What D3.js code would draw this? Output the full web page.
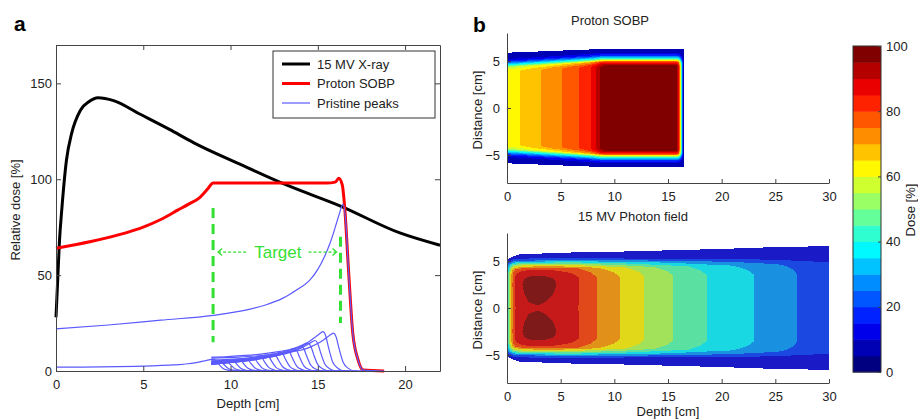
<!DOCTYPE html>
<html>
<head>
<meta charset="utf-8">
<script src="https://cdn.jsdelivr.net/npm/d3@7"></script>
<style>
body { margin: 0; background: #fff; }
svg { font-family: "Liberation Sans", Arial, Helvetica, sans-serif; }
.axis text { font-size: 13px; fill: #222; }
.axis path, .axis line { stroke: #444; }
</style>
</head>
<body>
<svg id="fig" width="918" height="420"></svg>
<script>
// ---- panel a: depth-dose curves (depth in cm, dose in %) ----
var xrayDepth = [0, 0.1, 0.2, 0.33, 0.6, 0.9, 1.4, 1.9, 2.4, 3.3, 4.8, 6.5, 7.9, 10.5, 13.2, 16.3, 19.7, 22];
var xrayDose  = [28, 48, 68, 84, 110, 124, 136, 140.5, 142.5, 141, 134, 126, 119, 108, 97, 86, 72, 65.6];

var sobpDepth = [0, 2, 4, 5, 6, 7, 7.6, 8.25, 8.7, 9.0, 12, 15.5, 16.0, 16.2, 16.4, 16.55, 16.75, 17.0, 17.3, 17.6, 18.8];
var sobpDose  = [64, 67.5, 72, 75, 79, 84, 87, 90.6, 95, 98, 98, 98, 98.5, 100.5, 97, 84, 54, 20, 6, 0.5, 0];

// deepest pristine peak (full curve)
var peakDepth = [0, 3, 6, 9, 11, 12, 13, 13.5, 14, 14.5, 15, 15.4, 15.7, 16.0, 16.2, 16.45, 16.6, 16.75, 17.0, 17.3, 17.6, 18.8];
var peakDose  = [22, 24, 26.5, 29, 32, 34.4, 38, 40.6, 43.5, 47, 53, 60, 66.6, 75, 81, 87, 78, 54, 20, 6, 0.5, 0];

// weighted shallower pristine peaks: peak depth and peak height
var pristineRange  = [9.0, 9.35, 9.7, 10.05, 10.45, 10.85, 11.25, 11.65, 12.05, 12.45, 12.85, 13.25, 13.65, 14.05, 14.45, 14.85, 15.3, 15.9];
var pristineHeight = [6.2, 5.0, 5.3, 5.7, 6.1, 6.6, 7.1, 7.7, 8.3, 9.0, 9.8, 10.7, 11.8, 13.0, 14.4, 15.9, 20.5, 19.8];
var pristineStart = 8.9;

var targetFrom = 9.0, targetTo = 16.3;

var xTicksA = [0, 5, 10, 15, 20];
var yTicksA = [0, 50, 100, 150];

// ---- panel b: dose maps ----
// proton SOBP map: central-axis dose, 50% half width and outer edge by depth
var protonDepth = [0, 1.2, 3.2, 5.1, 6.7, 7.8, 8.3, 8.7, 9.2, 15.8, 16.0, 16.2, 16.4, 16.45];
var protonDose  = [62.5, 65, 70, 75, 80, 85, 90, 95, 98, 98, 88, 55, 15, 0];
var protonWDepth = [0, 9, 16.45];
var protonWidth  = [4.5, 5.0, 5.0];
var protonOuter  = [5.9, 6.3, 6.3];
var protonLatU = [-10, -0.6, -0.4, -0.1, 0.1, 0.35, 0.6, 0.9, 1.3];
var protonLatF = [1, 1, 0.96, 0.85, 0.62, 0.38, 0.2, 0.1, 0.05];
var protonLevels = 20;

// 15 MV photon map
var photonDepth = [0, 0.3, 0.6, 0.8, 1.2, 2.0, 2.8, 3.6, 4.5, 6.65, 8.35, 10.5, 12.8, 15.5, 18.6, 23, 27, 30];
var photonDose  = [30, 60, 78, 83.3, 88, 90.5, 91.2, 90.5, 89, 83.3, 75, 66.7, 58.3, 50, 41.7, 33.3, 25, 21];
var photonWDepth = [0, 10, 20, 30];
var photonWidth  = [4.6, 4.8, 5.0, 5.2];
var photonODepth = [0, 1, 5, 10, 20, 25, 30];
var photonOuter  = [5.2, 5.7, 5.9, 6.0, 6.3, 6.5, 6.6];
var photonLatU = [-10, -1.5, -1.0, -0.5, 0, 0.4, 0.8, 1.5];
var photonLatF = [1, 1, 0.97, 0.9, 0.6, 0.28, 0.12, 0.05];
// off-axis horns near dose maximum
var hornY = [0, 0.5, 1.5, 2.5, 3.5, 4.3];
var hornF = [0, 0.3, 0.8, 1, 0.7, 0];
var hornDepth = [0, 5, 7, 30];
var hornAmp   = [0.033, 0.033, 0, 0];
var photonLevels = 12;

var mapTicksX = [0, 5, 10, 15, 20, 25, 30];
var mapTicksY = [-5, 0, 5];
var doseTicks = [0, 20, 40, 60, 80, 100];
var barLevels = 20;

var svg = d3.select("#fig");
var green = "#33e033";

// ================= panel a =================
var xA = d3.scaleLinear().domain([0, 22]).range([56, 440]);
var yA = d3.scaleLinear().domain([0, 170]).range([371, 45]);

var gA = svg.append("g");

function pairs(xs, ys) {
  return xs.map(function (v, i) { return [v, ys[i]]; });
}

var lineA = d3.line()
  .x(function (d) { return xA(d[0]); })
  .y(function (d) { return yA(d[1]); })
  .curve(d3.curveMonotoneX);

// curves
gA.append("path")
  .attr("d", lineA(pairs(xrayDepth, xrayDose)))
  .attr("fill", "none").attr("stroke", "#000").attr("stroke-width", 3);

gA.append("path")
  .attr("d", lineA(pairs(sobpDepth, sobpDose)))
  .attr("fill", "none").attr("stroke", "#ff0000").attr("stroke-width", 3);

var peakTop = d3.max(peakDose);
var peakAt = peakDepth[peakDose.indexOf(peakTop)];
var bigScale = d3.scaleLinear().domain(peakDepth).range(peakDose).clamp(true);

var pristine = pristineRange.map(function (R, i) {
  var shift = peakAt - R;
  var k = pristineHeight[i] / peakTop;
  var start = i === 0 ? 0 : pristineStart;
  var pts = [[start, k * bigScale(start + shift)]];
  peakDepth.forEach(function (dd, j) {
    if (dd - shift > start) pts.push([dd - shift, k * peakDose[j]]);
  });
  return pts;
});
pristine.push(pairs(peakDepth, peakDose));

gA.append("g").selectAll("path")
  .data(pristine)
  .enter()
  .append("path")
  .attr("d", lineA)
  .attr("fill", "none")
  .attr("stroke", "#5a5aff")
  .attr("stroke-width", 1.2);

// target markers
gA.append("line")
  .attr("x1", xA(targetFrom)).attr("x2", xA(targetFrom))
  .attr("y1", yA(85)).attr("y2", yA(15))
  .attr("stroke", green).attr("stroke-width", 3).attr("stroke-dasharray", "10,6");
gA.append("line")
  .attr("x1", xA(targetTo)).attr("x2", xA(targetTo))
  .attr("y1", yA(70)).attr("y2", yA(25))
  .attr("stroke", green).attr("stroke-width", 3).attr("stroke-dasharray", "10,6");

var yT = yA(62);
gA.append("line")
  .attr("x1", xA(targetFrom) + 5).attr("x2", xA(targetFrom) + 33)
  .attr("y1", yT).attr("y2", yT)
  .attr("stroke", green).attr("stroke-width", 1.3).attr("stroke-dasharray", "3,2");
gA.append("path")
  .attr("d", "M" + (xA(targetFrom) + 9) + "," + (yT - 3.5) + "L" + (xA(targetFrom) + 5) + "," + yT + "L" + (xA(targetFrom) + 9) + "," + (yT + 3.5))
  .attr("fill", "none").attr("stroke", green).attr("stroke-width", 1.3);
gA.append("line")
  .attr("x1", xA(targetTo) - 32).attr("x2", xA(targetTo) - 4)
  .attr("y1", yT).attr("y2", yT)
  .attr("stroke", green).attr("stroke-width", 1.3).attr("stroke-dasharray", "3,2");
gA.append("path")
  .attr("d", "M" + (xA(targetTo) - 8) + "," + (yT - 3.5) + "L" + (xA(targetTo) - 4) + "," + yT + "L" + (xA(targetTo) - 8) + "," + (yT + 3.5))
  .attr("fill", "none").attr("stroke", green).attr("stroke-width", 1.3);
gA.append("text")
  .attr("x", (xA(targetFrom) + xA(targetTo)) / 2 + 1)
  .attr("y", yT)
  .attr("dy", "0.35em")
  .attr("text-anchor", "middle")
  .style("font-size", "17px")
  .attr("fill", green)
  .text("Target");

// axes (box with inward ticks)
gA.append("g").attr("class", "axis").attr("transform", "translate(0,371)")
  .call(d3.axisBottom(xA).tickValues(xTicksA).tickSize(-5).tickSizeOuter(0).tickPadding(9));
gA.append("g").attr("class", "axis").attr("transform", "translate(0,45)")
  .call(d3.axisTop(xA).tickValues(xTicksA).tickSize(-5).tickSizeOuter(0).tickFormat(""));
gA.append("g").attr("class", "axis").attr("transform", "translate(56,0)")
  .call(d3.axisLeft(yA).tickValues(yTicksA).tickSize(-5).tickSizeOuter(0).tickPadding(4));
gA.append("g").attr("class", "axis").attr("transform", "translate(440,0)")
  .call(d3.axisRight(yA).tickValues(yTicksA).tickSize(-5).tickSizeOuter(0).tickFormat(""));

gA.append("text").attr("x", 248).attr("y", 408).attr("text-anchor", "middle")
  .style("font-size", "13px").attr("fill", "#222").text("Depth [cm]");
gA.append("text").attr("transform", "translate(20,210) rotate(-90)").attr("text-anchor", "middle")
  .style("font-size", "13px").attr("fill", "#222").text("Relative dose [%]");

// legend
var legend = [
  { name: "15 MV X-ray", color: "#000", w: 3 },
  { name: "Proton SOBP", color: "#ff0000", w: 3 },
  { name: "Pristine peaks", color: "#5a5aff", w: 1.2 }
];
var gL = gA.append("g");
gL.append("rect").attr("x", 273).attr("y", 51).attr("width", 162).attr("height", 67)
  .attr("fill", "#fff").attr("stroke", "#333").attr("stroke-width", 1);
var li = gL.selectAll("g.item").data(legend).enter().append("g")
  .attr("transform", function (d, i) { return "translate(0," + (64 + i * 19.5) + ")"; });
li.append("line").attr("x1", 282).attr("x2", 310)
  .attr("stroke", function (d) { return d.color; })
  .attr("stroke-width", function (d) { return d.w; });
li.append("text").attr("x", 317).attr("dy", "0.35em")
  .style("font-size", "13px").attr("fill", "#222")
  .text(function (d) { return d.name; });

svg.append("text").attr("x", 14).attr("y", 31).style("font-size", "21px")
  .style("font-weight", "bold").text("a");

// ================= panel b =================
function jet(t) {
  var c = function (v) { return Math.max(0, Math.min(1, v)) * 255; };
  return d3.rgb(c(1.5 - Math.abs(4 * t - 3)), c(1.5 - Math.abs(4 * t - 2)), c(1.5 - Math.abs(4 * t - 1))).formatHex();
}

var floorDose = 9;

// dose(depth, dist) -> filled band rects, merged along each pixel row
function drawMap(g, x, y, dMax, levels, doseAt, outer, mute) {
  var runs = [];
  var x0 = Math.round(x(0)), x1 = Math.round(x(dMax));
  var yTop = Math.round(y(8)), yBot = Math.round(y(-8));
  for (var py = yTop; py < yBot; py++) {
    var dist = Math.abs(y.invert(py + 0.5));
    var runStart = x0, runBand = -1;
    for (var px = x0; px <= x1; px++) {
      var band = -1;
      if (px < x1) {
        var dep = x.invert(px + 0.5);
        if (dist <= outer(dep)) {
          var v = Math.max(doseAt(dep, dist), floorDose);
          band = Math.min(levels - 1, Math.floor(v / (100 / levels)));
        }
      }
      if (band !== runBand || px === x1) {
        if (runBand >= 0) runs.push({ x: runStart, y: py, w: px - runStart, b: runBand });
        runStart = px;
        runBand = band;
      }
    }
  }
  g.selectAll("rect").data(runs).enter().append("rect")
    .attr("x", function (d) { return d.x; })
    .attr("y", function (d) { return d.y; })
    .attr("width", function (d) { return d.w; })
    .attr("height", 1)
    .attr("fill", function (d) {
      return d3.interpolateRgb(jet(d.b / (levels - 1)), "#787878")(mute);
    });
}

function mapAxes(g, x, y, yBase) {
  g.append("g").attr("class", "axis").attr("transform", "translate(0," + yBase + ")")
    .call(d3.axisBottom(x).tickValues(mapTicksX).tickSize(-4).tickSizeOuter(0).tickPadding(9));
  g.append("g").attr("class", "axis").attr("transform", "translate(" + x(0) + ",0)")
    .call(d3.axisLeft(y).tickValues(mapTicksY).tickSize(-4).tickSizeOuter(0).tickPadding(7));
}

function lin(xs, ys) { return d3.scaleLinear().domain(xs).range(ys).clamp(true); }

// top: proton SOBP
var xB = d3.scaleLinear().domain([0, 30]).range([507, 829]);
var yB1 = d3.scaleLinear().domain([-8, 8]).range([183, 33]);
var gB1 = svg.append("g");
var pCenter = lin(protonDepth, protonDose), pWidth = lin(protonWDepth, protonWidth),
    pLat = lin(protonLatU, protonLatF);
drawMap(gB1.append("g"), xB, yB1, d3.max(protonDepth), protonLevels,
  function (dep, dist) { return pCenter(dep) * pLat(dist - pWidth(dep)); },
  lin(protonWDepth, protonOuter), 0);
mapAxes(gB1, xB, yB1, 183);
gB1.append("text").attr("x", 610).attr("y", 25).attr("text-anchor", "middle")
  .style("font-size", "13px").attr("fill", "#222").text("Proton SOBP");
gB1.append("text").attr("transform", "translate(482,110) rotate(-90)").attr("text-anchor", "middle")
  .style("font-size", "13px").attr("fill", "#222").text("Distance [cm]");

// bottom: 15 MV photon
var yB2 = d3.scaleLinear().domain([-8, 8]).range([383, 233]);
var gB2 = svg.append("g");
var xCenter = lin(photonDepth, photonDose), xWidth = lin(photonWDepth, photonWidth),
    xLat = lin(photonLatU, photonLatF), xHorn = lin(hornY, hornF), xHornAmp = lin(hornDepth, hornAmp);
drawMap(gB2.append("g"), xB, yB2, d3.max(photonDepth), photonLevels,
  function (dep, dist) {
    return xCenter(dep) * (xLat(dist - xWidth(dep)) + xHornAmp(dep) * xHorn(dist));
  },
  lin(photonODepth, photonOuter), 0.22);
mapAxes(gB2, xB, yB2, 383);
gB2.append("text").attr("x", 633).attr("y", 221).attr("text-anchor", "middle")
  .style("font-size", "13px").attr("fill", "#222").text("15 MV Photon field");
gB2.append("text").attr("transform", "translate(482,310) rotate(-90)").attr("text-anchor", "middle")
  .style("font-size", "13px").attr("fill", "#222").text("Distance [cm]");
gB2.append("text").attr("x", 668).attr("y", 416).attr("text-anchor", "middle")
  .style("font-size", "13px").attr("fill", "#222").text("Depth [cm]");

svg.append("text").attr("x", 473).attr("y", 32).style("font-size", "21px")
  .style("font-weight", "bold").text("b");

// colorbar
var yC = d3.scaleLinear().domain([0, 100]).range([372, 46]);
var gC = svg.append("g");
var bandStep = 100 / barLevels;
gC.selectAll("rect.band").data(d3.range(barLevels)).enter().append("rect")
  .attr("x", 853).attr("width", 28)
  .attr("y", function (i) { return yC((i + 1) * bandStep); })
  .attr("height", function (i) { return yC(i * bandStep) - yC((i + 1) * bandStep) + 0.5; })
  .attr("fill", function (i) { return jet(i / (barLevels - 1)); });
gC.append("rect").attr("x", 853).attr("y", yC(100)).attr("width", 28)
  .attr("height", yC(0) - yC(100)).attr("fill", "none").attr("stroke", "#333");
gC.append("g").attr("class", "axis").attr("transform", "translate(881,0)")
  .call(d3.axisRight(yC).tickValues(doseTicks).tickSize(-3).tickSizeOuter(0).tickPadding(5))
  .select(".domain").remove();
gC.append("text").attr("transform", "translate(915,210) rotate(-90)").attr("text-anchor", "middle")
  .style("font-size", "13px").attr("fill", "#222").text("Dose [%]");
</script>
</body>
</html>
